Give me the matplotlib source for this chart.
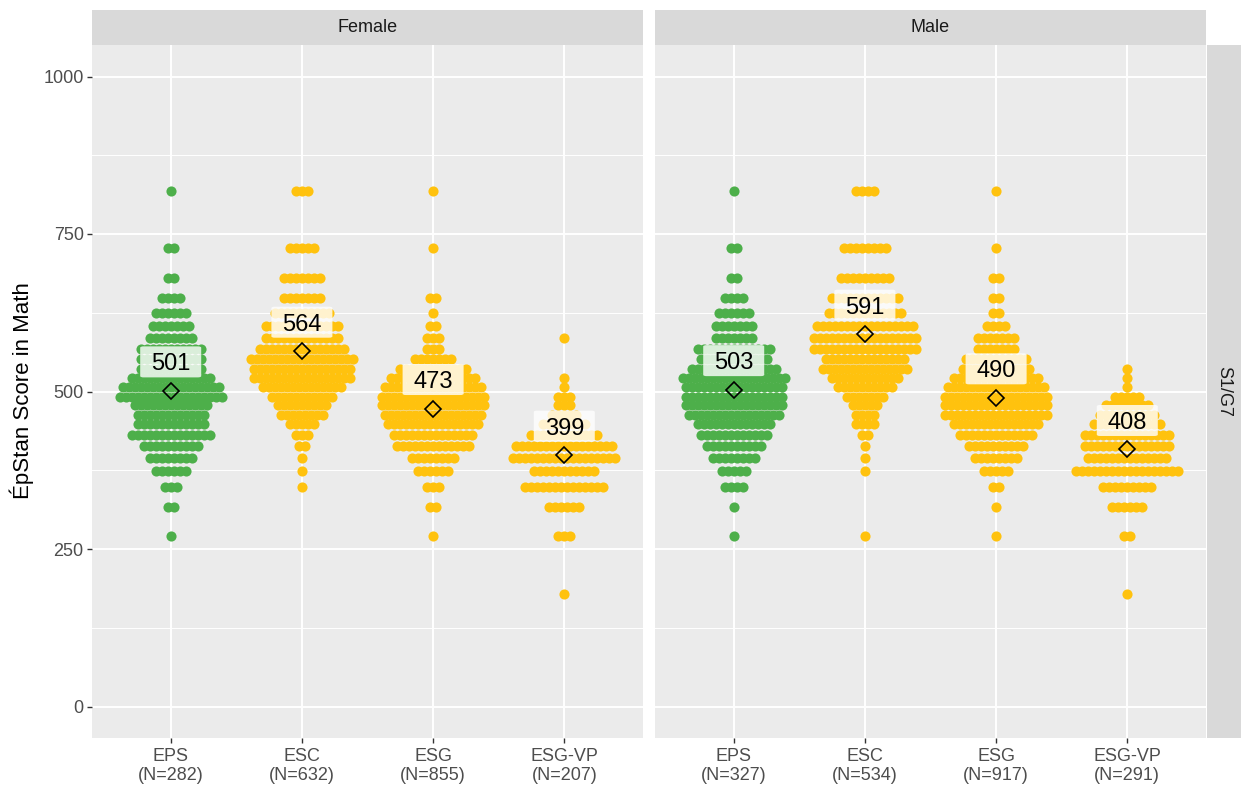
import matplotlib
matplotlib.use("Agg")
import matplotlib.pyplot as plt
from matplotlib.patches import FancyBboxPatch
import numpy as np

plt.rcParams['font.family'] = ['Liberation Sans', 'DejaVu Sans']

# ---------------- data ----------------
categories = ["EPS", "ESC", "ESG", "ESG-VP"]
sexes = ["Female", "Male"]
n_female = [282, 632, 855, 207]
n_male = [327, 534, 917, 291]
mean_female = [501, 564, 473, 399]
mean_male = [503, 591, 490, 408]

# discrete score levels (rows of the swarm)
levels = [178, 270, 316, 349, 374, 395, 414, 431, 448, 462, 478, 492,
          507, 521, 536, 552, 567, 585, 604, 624, 649, 680, 727, 818]

# number of dots drawn at each level
f_eps = [0, 1, 2, 3, 6, 8, 10, 14, 12, 12, 13, 18, 17, 14, 11, 11, 11, 8, 7, 6, 4, 2, 2, 1]
f_esc = [0, 0, 0, 1, 1, 1, 2, 3, 5, 8, 9, 11, 14, 17, 17, 18, 15, 13, 13, 10, 7, 7, 5, 3]
f_esg = [0, 1, 2, 3, 6, 8, 13, 14, 16, 17, 18, 18, 17, 15, 12, 7, 3, 3, 2, 1, 2, 0, 1, 1]
f_vp = [1, 3, 6, 14, 11, 18, 17, 12, 8, 5, 3, 3, 1, 1, 0, 0, 0, 1, 0, 0, 0, 0, 0, 0]
m_eps = [0, 1, 1, 4, 5, 8, 10, 12, 13, 16, 17, 17, 17, 18, 15, 12, 13, 7, 7, 6, 4, 2, 2, 1]
m_esc = [0, 1, 0, 0, 1, 1, 1, 2, 4, 4, 5, 7, 10, 12, 15, 14, 18, 18, 17, 13, 12, 9, 8, 4]
m_esg = [0, 1, 1, 2, 5, 8, 10, 13, 15, 18, 18, 18, 17, 15, 12, 11, 7, 7, 4, 2, 2, 2, 1, 1]
m_vp = [1, 2, 6, 9, 18, 14, 15, 15, 12, 10, 8, 5, 1, 1, 1, 0, 0, 0, 0, 0, 0, 0, 0, 0]

counts_female = [f_eps, f_esc, f_esg, f_vp]
counts_male = [m_eps, m_esc, m_esg, m_vp]
colors = ["#4DAF4A", "#FFC20E", "#FFC20E", "#FFC20E"]

# ---------------- layout ----------------
W, H = 1241, 788
fig = plt.figure(figsize=(W / 100, H / 100), dpi=100)


def rect(x0, y0, x1, y1):
    return [x0 / W, 1 - y1 / H, (x1 - x0) / W, (y1 - y0) / H]


panels = [rect(92, 45, 643, 738), rect(655, 45, 1206, 738)]
strips = [rect(92, 10, 643, 45), rect(655, 10, 1206, 45)]

PANEL_BG = "#EBEBEB"
STRIP_BG = "#D9D9D9"
XLIM = (-0.6, 3.6)
YLIM = (-50, 1050)
px_per_unit = (643 - 92) / (XLIM[1] - XLIM[0])
dx = 6.0 / px_per_unit          # horizontal dot spacing
dot_s = 7.3 ** 2                # dot area (pt^2)
label_w = 61 / px_per_unit
label_h = 31 / 0.63
label_off = 46

for k, (sex, counts, means, ns) in enumerate(zip(
        sexes, [counts_female, counts_male], [mean_female, mean_male], [n_female, n_male])):
    ax = fig.add_axes(panels[k])
    ax.set_facecolor(PANEL_BG)
    ax.set_xlim(*XLIM)
    ax.set_ylim(*YLIM)
    for sp in ax.spines.values():
        sp.set_visible(False)
    # grid
    for y in [125, 375, 625, 875]:
        ax.axhline(y, color="white", lw=0.7, zorder=0)
    for y in [0, 250, 500, 750, 1000]:
        ax.axhline(y, color="white", lw=1.4, zorder=0)
    for i in range(len(categories)):
        ax.axvline(i, color="white", lw=1.4, zorder=0)

    for i, cat in enumerate(categories):
        xs, ys = [], []
        for lev, c in zip(levels, counts[i]):
            if c > 0:
                off = (np.arange(c) - (c - 1) / 2) * dx
                xs.extend(i + off)
                ys.extend([lev] * c)
        ax.scatter(xs, ys, s=dot_s, color=colors[i], linewidths=0, zorder=3)
        ax.plot(i, means[i], marker="D", ms=8.5, mfc="none", mec="black",
                mew=1.2, zorder=4)
        box = FancyBboxPatch((i - label_w / 2, means[i] + label_off - label_h / 2),
                             label_w, label_h,
                             boxstyle="round,pad=0,rounding_size=0.025",
                             mutation_aspect=(0.63 * px_per_unit),
                             fc="white", ec="none", alpha=0.8, zorder=5)
        ax.add_patch(box)
        ax.text(i, means[i] + label_off - 13.5, str(means[i]), ha="center",
                va="baseline", fontsize=17, color="black", zorder=6)

    ax.set_xticks(range(len(categories)))
    ax.set_xticklabels([f"{c}\n(N={n})" for c, n in zip(categories, ns)],
                       fontsize=13, color="#4D4D4D", linespacing=1.15)
    ax.set_yticks([0, 250, 500, 750, 1000])
    ax.tick_params(axis="both", length=3.5, width=1, color="#333333", pad=2.5)
    ax.tick_params(axis="x", pad=4)
    if k == 0:
        ax.set_yticklabels(["0", "250", "500", "750", "1000"], fontsize=13,
                           color="#4D4D4D")
    else:
        ax.tick_params(axis="y", left=False, labelleft=False)

    sax = fig.add_axes(strips[k])
    sax.set_facecolor(STRIP_BG)
    sax.set_xticks([])
    sax.set_yticks([])
    for sp in sax.spines.values():
        sp.set_visible(False)
    sax.text(0.5, 0.5, sex, ha="center", va="center", fontsize=13,
             color="#1A1A1A", transform=sax.transAxes)

rax = fig.add_axes(rect(1207, 45, 1241, 738))
rax.set_facecolor(STRIP_BG)
rax.set_xticks([])
rax.set_yticks([])
for sp in rax.spines.values():
    sp.set_visible(False)
rax.text(0.5, 0.5, "S1/G7", ha="center", va="center", rotation=-90,
         fontsize=13, color="#1A1A1A", transform=rax.transAxes)

fig.text(22 / W, 1 - 391 / H, "ÉpStan Score in Math", rotation=90,
         ha="center", va="center", fontsize=16, color="black")

fig.savefig("out.png", dpi=100, facecolor="white")
